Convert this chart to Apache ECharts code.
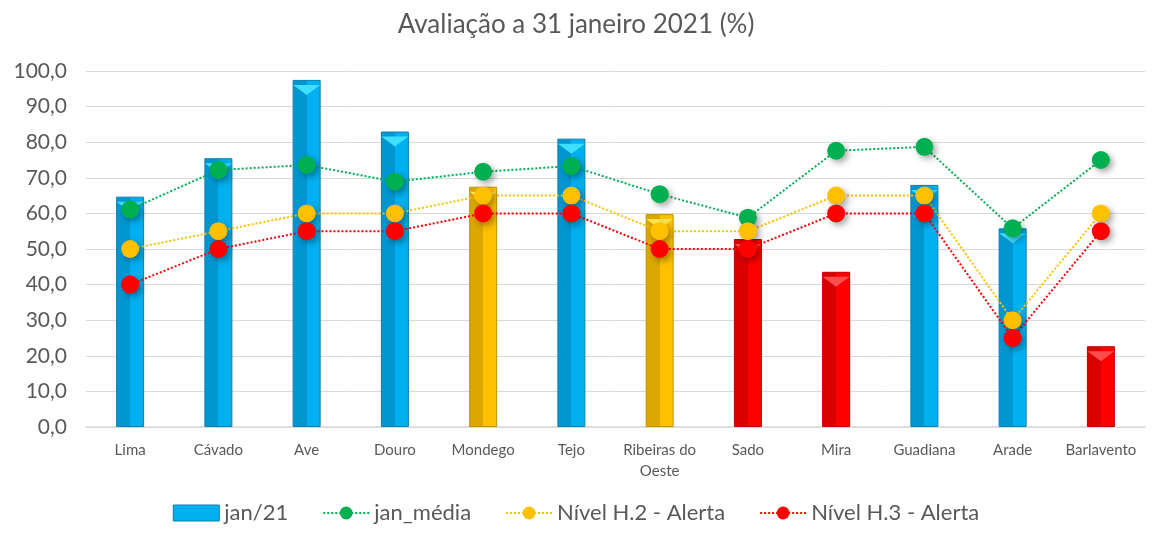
<!DOCTYPE html>
<html>
<head>
<meta charset="utf-8">
<script src="https://cdn.jsdelivr.net/npm/echarts@6/dist/echarts.min.js"></script>
<style>
  html, body { margin: 0; padding: 0; background: #fff; }
  #chart { width: 1152px; height: 533px; }
</style>
</head>
<body>
<div id="chart"></div>
<script>
// data
var categories = ['Lima', 'Cávado', 'Ave', 'Douro', 'Mondego', 'Tejo', 'Ribeiras do\nOeste', 'Sado', 'Mira', 'Guadiana', 'Arade', 'Barlavento'];
var jan21 = [64.7, 75.5, 97.5, 83.0, 67.5, 81.0, 59.8, 52.8, 43.6, 68.0, 55.8, 22.7];
var janLevel = ['ok', 'ok', 'ok', 'ok', 'h2', 'ok', 'h2', 'h3', 'h3', 'ok', 'ok', 'h3'];
var janMedia = [61.1, 72.2, 73.6, 68.9, 71.7, 73.3, 65.4, 58.8, 77.6, 78.7, 55.8, 75.0];
var nivelH2 = [50, 55, 60, 60, 65, 65, 55, 55, 65, 65, 30, 60];
var nivelH3 = [40, 50, 55, 55, 60, 60, 50, 50, 60, 60, 25, 55];

var FONT = 'Lato, "Open Sans", sans-serif';
var TXT = '#595959';

// bevelled look: darker left half, brighter right half
function barGradient(dark, light) {
  return new echarts.graphic.LinearGradient(0, 0, 1, 0, [
    { offset: 0, color: dark },
    { offset: 0.5, color: dark },
    { offset: 0.5, color: light },
    { offset: 1, color: light }
  ]);
}
var levelColors = {
  ok: barGradient('#0096d2', '#00b0f0'),
  h2: barGradient('#dba700', '#ffc000'),
  h3: barGradient('#d90000', '#ff0000')
};
var levelBorder = { ok: '#0a7fb0', h2: '#c49400', h3: '#c00000' };
var levelTop = { ok: '#3fe0ff', h2: '#ffe44d', h3: '#ff4d4d' };

var barData = jan21.map(function (v, i) {
  return {
    value: v,
    itemStyle: { color: levelColors[janLevel[i]], borderColor: levelBorder[janLevel[i]], borderWidth: 1 }
  };
});
// light triangle on top of each bar (bevel cap)
var capData = jan21.map(function (v, i) {
  return { value: v, itemStyle: { color: levelTop[janLevel[i]] } };
});

function lineSeries(name, data, color) {
  return {
    name: name,
    type: 'line',
    data: data,
    symbol: 'circle',
    symbolSize: 18,
    z: 5,
    lineStyle: { color: color, width: 2, type: [2, 2] },
    itemStyle: {
      color: color,
      shadowBlur: 6,
      shadowColor: 'rgba(0,0,0,0.35)',
      shadowOffsetX: 3,
      shadowOffsetY: 3
    }
  };
}

var chart = echarts.init(document.getElementById('chart'));

var option = {
  animation: false,
  textStyle: { fontFamily: FONT },
  title: {
    text: 'Avaliação a 31 janeiro 2021 (%)',
    left: 'center',
    top: 7,
    textStyle: { fontFamily: FONT, fontSize: 26, fontWeight: 'normal', color: TXT }
  },
  grid: { left: 86, right: 7, top: 71, bottom: 106 },
  xAxis: {
    type: 'category',
    data: categories,
    axisLine: { show: true, lineStyle: { color: '#d9d9d9', width: 1.5 } },
    axisTick: { show: false },
    axisLabel: { color: TXT, fontSize: 15, fontFamily: FONT, margin: 13, lineHeight: 21, interval: 0 }
  },
  yAxis: {
    type: 'value',
    min: 0,
    max: 100,
    interval: 10,
    axisLine: { show: false },
    axisTick: { show: false },
    splitLine: { lineStyle: { color: '#d9d9d9', width: 1 } },
    axisLabel: {
      color: TXT,
      fontSize: 21,
      fontFamily: FONT,
      margin: 19,
      formatter: function (v) { return v.toFixed(1).replace('.', ','); }
    }
  },
  legend: {
    bottom: 4,
    left: 'center',
    itemGap: 34,
    itemWidth: 46,
    itemHeight: 16,
    textStyle: { color: TXT, fontSize: 22, fontFamily: FONT },
    data: [
      { name: 'jan/21', icon: 'rect', itemStyle: { color: '#00b0f0', borderColor: '#0a7fb0', borderWidth: 1 } },
      'jan_média', 'Nível H.2 - Alerta', 'Nível H.3 - Alerta'
    ]
  },
  series: [
    {
      name: 'jan/21',
      type: 'bar',
      data: barData,
      barWidth: 28,
      barGap: '-100%',
      z: 2,
      itemStyle: { color: '#00b0f0' }
    },
    {
      name: 'cap',
      type: 'pictorialBar',
      data: capData,
      symbol: 'path://M0,0 L10,0 L5,4 Z',
      symbolSize: [27, 10],
      symbolPosition: 'end',
      symbolOffset: [0, '50%'],
      barWidth: 28,
      barGap: '-100%',
      z: 3,
      silent: true,
      tooltip: { show: false }
    },
    lineSeries('jan_média', janMedia, '#00b050'),
    lineSeries('Nível H.2 - Alerta', nivelH2, '#ffc000'),
    lineSeries('Nível H.3 - Alerta', nivelH3, '#ff0000')
  ]
};

chart.setOption(option);
</script>
</body>
</html>
